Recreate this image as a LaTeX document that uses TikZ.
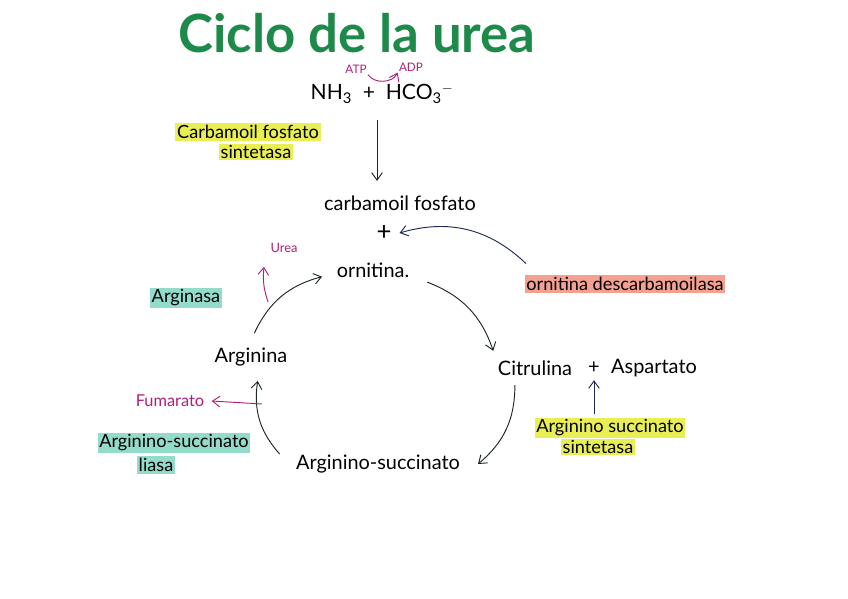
\documentclass[tikz,border=0pt]{standalone}
\usepackage{fontspec}
\setmainfont{Lato}
\usetikzlibrary{arrows.meta}
\definecolor{titlegreen}{HTML}{1E8A4A}
\definecolor{enzmag}{HTML}{B0207A}
\definecolor{hlyellow}{HTML}{E9EE55}
\definecolor{hlteal}{HTML}{93DBCA}
\definecolor{hlsalmon}{HTML}{F4A191}
\definecolor{inkblue}{HTML}{1F2A55}
\definecolor{inkdark}{HTML}{1C2622}

\begin{document}
\begin{tikzpicture}[x=0.03cm,y=-0.03cm,>={Straight Barb[length=2.2mm,width=3.2mm]},
  mol/.style={font=\fontsize{17}{19}\selectfont,inner sep=1pt},
  enz/.style={font=\fontsize{15.5}{17}\selectfont,inner sep=1.5pt},
  cyc/.style={->,thick,inkdark}]
  \useasboundingbox (0,0) rectangle (848,599);
  \fill[white] (0,0) rectangle (848,599);

  \node[text=titlegreen,font=\fontsize{45}{50}\selectfont\bfseries,inner sep=0pt] (title) at (357,33) {Ciclo de la urea};

  % entrada
  \node[text=enzmag,font=\fontsize{10}{11}\selectfont,inner sep=1pt] (atp) at (356,69) {ATP};
  \node[text=enzmag,font=\fontsize{10}{11}\selectfont,inner sep=1pt] (adp) at (411,67) {ADP};
  \draw[->,enzmag,thick] (atp.south east) to[bend right=60] (adp.south west);
  \node[mol,font=\fontsize{18}{20}\selectfont] (nh3) at (382,94) {NH\textsubscript{3}\ \ +\ \ HCO\textsubscript{3}\textsuperscript{$-$}};
  \node[enz,fill=hlyellow] (cfs1) at (248,132) {Carbamoil fosfato};
  \node[enz,fill=hlyellow] (cfs2) at (256,152) {sintetasa};

  % ciclo
  \node[mol] (cf) at (400,203) {carbamoil fosfato};
  \node[mol,font=\fontsize{22}{22}\selectfont] (plus) at (384,233) {+};
  \node[mol] (orn) at (373,270) {ornitina.};
  \node[mol] (cit) at (535,368) {Citrulina};
  \node[mol] (plus2) at (594,368) {+};
  \node[mol] (asp) at (654,368) {Aspartato};
  \node[mol] (as) at (378,464) {Arginino-succinato};
  \node[mol] (argn) at (251,357) {Arginina};

  \draw[cyc] ([shift={(-0.15cm,-0.45cm)}]nh3.south) -- ([shift={(-0.15cm,0.4cm)}]nh3.south |- cf.north);
  \draw[cyc] ([shift={(0.5cm,-0.1cm)}]orn.south east) to[bend left=25] ([shift={(-0.1cm,0.25cm)}]cit.north west);
  \draw[cyc] ([shift={(0.55cm,-0.25cm)}]cit.south west) to[bend left=25] ([xshift=0.5cm]as.east);
  \draw[cyc] ([shift={(-0.45cm,0.3cm)}]as.west) to[bend left=25] ([shift={(0.2cm,-0.4cm)}]argn.south);
  \draw[cyc] ([shift={(0.1cm,0.4cm)}]argn.north) to[bend left=25] ([shift={(-0.4cm,-0.2cm)}]orn.west);

  % productos
  \coordinate (ureafrom) at (268,302);
  \node[text=enzmag,font=\fontsize{11}{12}\selectfont] (urea) at (284,248) {Urea};
  \draw[->,enzmag,thick] (ureafrom) to[bend left=12] ([shift={(-0.6cm,-0.3cm)}]urea.south);
  \coordinate (fumfrom) at (262,404);
  \node[text=enzmag,font=\fontsize{14}{16}\selectfont] (fum) at (170,401) {Fumarato};
  \draw[->,enzmag,thick] (fumfrom) -- ([xshift=0.1cm]fum.east);

  % enzimas
  \node[enz,fill=hlteal] (argsa) at (186,298) {Arginasa};
  \node[enz,fill=hlsalmon] (odc) at (625,284) {ornitina descarbamoilasa};
  \draw[->,thick,inkblue] ([shift={(0.05cm,0.35cm)}]odc.north west) to[bend right=30] ([xshift=0.2cm]plus.east);
  \node[enz,fill=hlyellow] (ass1) at (610,428) {Arginino succinato};
  \node[enz,fill=hlyellow] (ass2) at (598,447) {sintetasa};
  \draw[->,thick,inkblue] ([yshift=0.1cm]ass1.north -| plus2.south) -- ([yshift=-0.15cm]plus2.south);
  \node[enz,fill=hlteal] (asl1) at (174,443) {Arginino-succinato};
  \node[enz,fill=hlteal] (asl2) at (156,465) {liasa};
\end{tikzpicture}
\end{document}
